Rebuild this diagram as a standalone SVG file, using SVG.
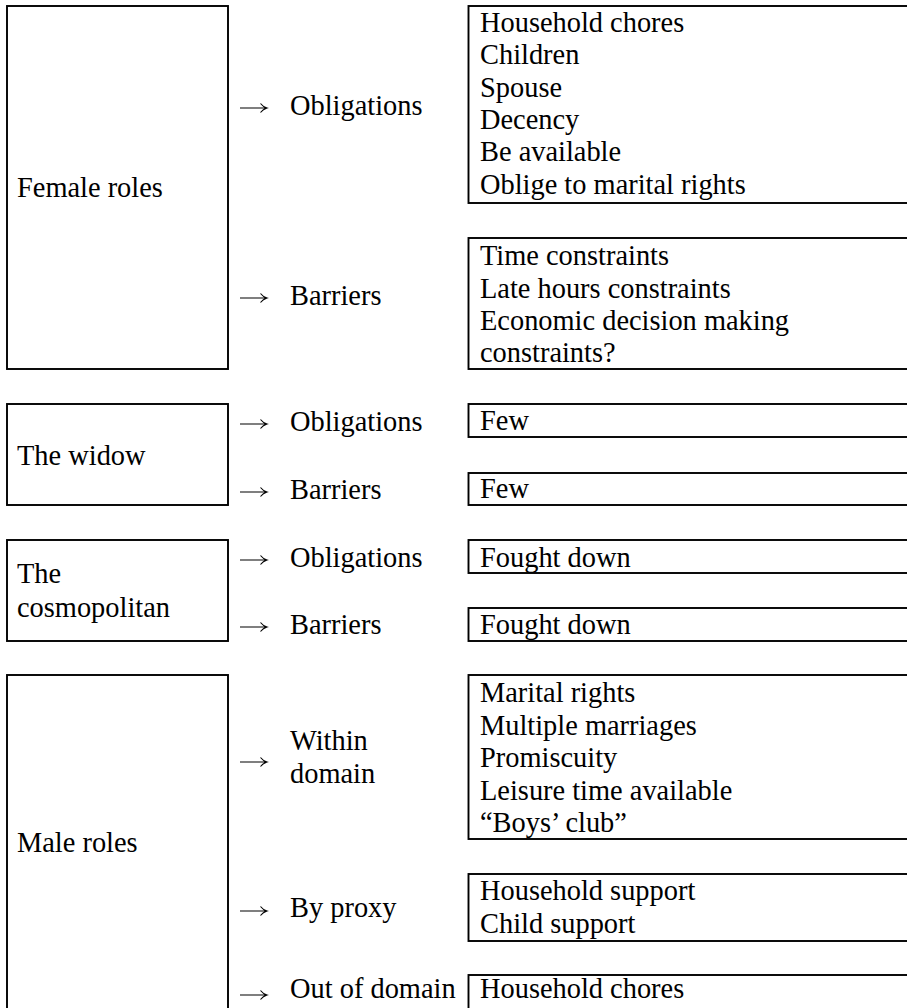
<svg xmlns="http://www.w3.org/2000/svg" width="907" height="1008" viewBox="0 0 907 1008">
  <style>
    .box { fill: none; stroke: #000; stroke-width: 1.9; }
    text { font-family: "Liberation Serif", "Times New Roman", serif; font-size: 28.4px; fill: #000; }
    .arrow { fill: none; stroke: #000; stroke-width: 1.1; }
  </style>
  <defs>
    <!-- one arrow glyph, drawn with its tip at (27,0) -->
    <path id="arr" class="arrow" d="M0,0 H26.5 M20.5,-4.5 Q23,-1.2 27,0 Q23,1.2 20.5,4.5"/>
  </defs>
  <rect width="907" height="1008" fill="#fff"/>

  <!-- Female roles -->
  <g id="female-roles">
    <rect class="box" x="7" y="6" width="221" height="363"/>
    <text x="17" y="197">Female roles</text>
  </g>
  <g id="female-obligations">
    <text x="290" y="115">Obligations</text>
  </g>
  <g id="female-obligations-list">
    <rect class="box" x="468.5" y="6" width="460" height="197"/>
    <text x="480" y="32">Household chores</text>
    <text x="480" y="64.3">Children</text>
    <text x="480" y="96.6">Spouse</text>
    <text x="480" y="128.9">Decency</text>
    <text x="480" y="161.2">Be available</text>
    <text x="480" y="193.5">Oblige to marital rights</text>
  </g>
  <g id="female-barriers">
    <text x="290" y="305">Barriers</text>
  </g>
  <g id="female-barriers-list">
    <rect class="box" x="468.5" y="238" width="460" height="131"/>
    <text x="480" y="265">Time constraints</text>
    <text x="480" y="297.5">Late hours constraints</text>
    <text x="480" y="330">Economic decision making</text>
    <text x="480" y="362">constraints?</text>
  </g>

  <!-- The widow -->
  <g id="widow">
    <rect class="box" x="7" y="404" width="221" height="101"/>
    <text x="17" y="465">The widow</text>
  </g>
  <g id="widow-obligations">
    <text x="290" y="431">Obligations</text>
  </g>
  <g id="widow-obligations-list">
    <rect class="box" x="468.5" y="404" width="460" height="33"/>
    <text x="480" y="430">Few</text>
  </g>
  <g id="widow-barriers">
    <text x="290" y="499">Barriers</text>
  </g>
  <g id="widow-barriers-list">
    <rect class="box" x="468.5" y="473" width="460" height="32"/>
    <text x="480" y="498">Few</text>
  </g>

  <!-- The cosmopolitan -->
  <g id="cosmopolitan">
    <rect class="box" x="7" y="540" width="221" height="101"/>
    <text x="17" y="583">The</text>
    <text x="17" y="617">cosmopolitan</text>
  </g>
  <g id="cosmopolitan-obligations">
    <text x="290" y="567">Obligations</text>
  </g>
  <g id="cosmopolitan-obligations-list">
    <rect class="box" x="468.5" y="540" width="460" height="33"/>
    <text x="480" y="567">Fought down</text>
  </g>
  <g id="cosmopolitan-barriers">
    <text x="290" y="634">Barriers</text>
  </g>
  <g id="cosmopolitan-barriers-list">
    <rect class="box" x="468.5" y="608" width="460" height="33"/>
    <text x="480" y="634">Fought down</text>
  </g>

  <!-- Male roles -->
  <g id="male-roles">
    <rect class="box" x="7" y="675" width="221" height="360"/>
    <text x="17" y="852">Male roles</text>
  </g>
  <g id="male-within">
    <text x="290" y="750">Within</text>
    <text x="290" y="783">domain</text>
  </g>
  <g id="male-within-list">
    <rect class="box" x="468.5" y="675" width="460" height="164"/>
    <text x="480" y="702">Marital rights</text>
    <text x="480" y="734.5">Multiple marriages</text>
    <text x="480" y="767">Promiscuity</text>
    <text x="480" y="799.5">Leisure time available</text>
    <text x="480" y="832">“Boys’ club”</text>
  </g>
  <g id="male-proxy">
    <text x="290" y="917">By proxy</text>
  </g>
  <g id="male-proxy-list">
    <rect class="box" x="468.5" y="874" width="460" height="67"/>
    <text x="480" y="900">Household support</text>
    <text x="480" y="933">Child support</text>
  </g>
  <g id="male-out">
    <text x="290" y="998">Out of domain</text>
  </g>
  <g id="male-out-list">
    <rect class="box" x="468.5" y="975" width="460" height="60"/>
    <text x="480" y="998">Household chores</text>
  </g>

  <!-- Arrows from each role to its categories -->
  <g id="connectors">
    <use href="#arr" x="240" y="108"/>
    <use href="#arr" x="240" y="298"/>
    <use href="#arr" x="240" y="424"/>
    <use href="#arr" x="240" y="492"/>
    <use href="#arr" x="240" y="560"/>
    <use href="#arr" x="240" y="627"/>
    <use href="#arr" x="240" y="762"/>
    <use href="#arr" x="240" y="911"/>
    <use href="#arr" x="240" y="995"/>
  </g>
</svg>
